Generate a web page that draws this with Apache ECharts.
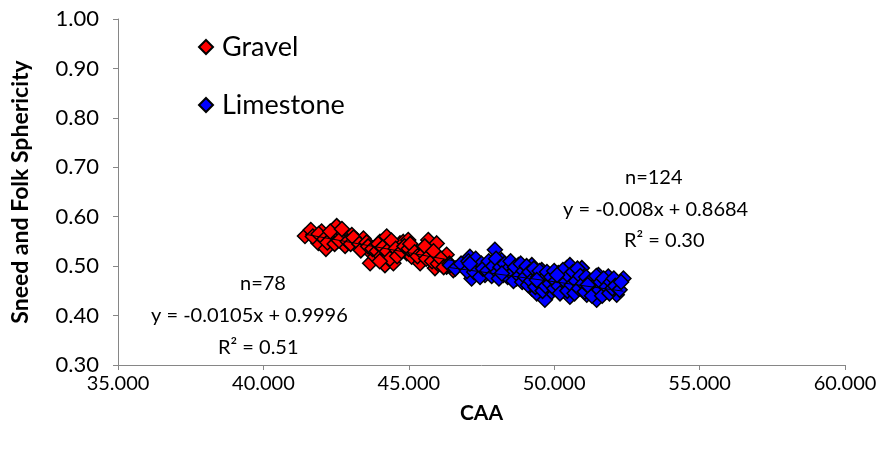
<!DOCTYPE html>
<html><head><meta charset="utf-8">
<script src="https://cdn.jsdelivr.net/npm/echarts@6/dist/echarts.min.js"></script>
<style>html,body{margin:0;padding:0;background:#fff}#c{width:888px;height:452px}</style>
</head><body><div id="c"></div>
<script>
var gravelX = [41.43,41.63,42.00,41.89,42.15,42.52,42.58,42.40,42.81,42.81,43.04,43.21,43.44,43.49,43.67,43.67,43.84,44.01,44.24,44.12,44.30,44.18,44.47,44.70,44.81,44.98,44.93,45.10,45.44,45.39,45.67,45.96,45.73,45.90,46.30,46.30,46.53,
  41.7,41.9,42.1,42.2,42.3,42.45,42.6,42.7,42.9,43.0,43.1,43.3,43.35,43.55,43.6,43.75,43.9,43.95,44.05,44.1,44.25,44.35,44.4,44.55,44.6,44.75,44.85,45.0,45.05,45.2,45.3,45.5,45.55,45.6,45.8,45.85,46.0,46.1,46.2,46.4,44.0];
var gravelY = [0.561,0.573,0.570,0.547,0.535,0.581,0.563,0.556,0.563,0.541,0.563,0.553,0.556,0.539,0.529,0.506,0.519,0.549,0.560,0.526,0.543,0.502,0.506,0.546,0.549,0.553,0.526,0.519,0.512,0.506,0.553,0.546,0.526,0.496,0.523,0.499,0.492,
  0.560,0.565,0.555,0.548,0.570,0.545,0.552,0.575,0.550,0.545,0.558,0.545,0.532,0.548,0.540,0.535,0.530,0.545,0.520,0.538,0.530,0.515,0.552,0.535,0.520,0.530,0.540,0.535,0.545,0.528,0.520,0.525,0.540,0.515,0.510,0.530,0.505,0.515,0.498,0.505,0.510];
var limeX = [46.42,47.10,47.16,47.39,47.62,47.96,47.96,48.19,48.25,48.48,48.77,48.88,48.71,49.23,49.28,49.23,49.40,49.68,49.57,49.80,49.91,50.14,50.43,50.54,50.37,50.54,50.83,50.95,51.12,51.34,51.46,51.52,51.75,51.86,52.15,52.20,52.38,
  46.6,46.8,47.0,47.05,47.2,47.25,47.3,47.45,47.5,47.55,47.7,47.75,47.85,47.9,48.0,48.05,48.1,48.15,48.3,48.35,48.4,48.5,48.55,48.6,48.65,48.8,48.85,48.9,48.95,49.0,49.05,49.1,49.15,49.2,49.3,49.35,49.45,49.5,49.5,49.6,49.65,49.7,49.75,49.85,49.9,50.0,50.0,50.05,50.15,50.2,50.25,50.3,50.4,50.45,50.5,50.6,50.65,50.7,50.75,50.8,50.85,50.9,51.0,51.05,51.1,51.2,51.25,51.3,51.4,51.45,51.55,51.6,51.65,51.7,51.8,51.9,51.95,52.0,52.05,52.1,52.25,47.1,48.2,49.4,50.1,51.15,52.3];
var limeY = [0.502,0.519,0.475,0.499,0.482,0.533,0.492,0.512,0.482,0.496,0.502,0.492,0.475,0.502,0.482,0.455,0.445,0.432,0.492,0.472,0.448,0.486,0.496,0.502,0.455,0.438,0.472,0.496,0.442,0.472,0.432,0.482,0.448,0.479,0.442,0.465,0.475,
  0.495,0.505,0.490,0.510,0.500,0.488,0.515,0.478,0.505,0.495,0.490,0.510,0.480,0.500,0.515,0.488,0.475,0.498,0.505,0.490,0.478,0.510,0.485,0.470,0.498,0.480,0.505,0.468,0.490,0.478,0.500,0.462,0.488,0.470,0.495,0.458,0.478,0.465,0.490,0.450,0.475,0.460,0.488,0.465,0.478,0.455,0.490,0.470,0.460,0.445,0.478,0.492,0.468,0.450,0.480,0.462,0.488,0.445,0.470,0.495,0.455,0.480,0.465,0.448,0.478,0.458,0.470,0.440,0.462,0.480,0.452,0.468,0.440,0.475,0.458,0.445,0.468,0.455,0.475,0.460,0.452,0.505,0.485,0.472,0.482,0.462,0.468];
// trendline coefficients [slope, intercept] and x-extent, as printed on the chart
var gravelTrend = [-0.0105, 0.9996]; var gravelRange = [41.43, 46.53];
var limeTrend = [-0.008, 0.8684];   var limeRange = [46.42, 52.38];
var xTicks = ['35.000','40.000','45.000','50.000','55.000','60.000'];
var yTicks = ['0.30','0.40','0.50','0.60','0.70','0.80','0.90','1.00'];
var gravelNote = ['n=78','y = -0.0105x + 0.9996','R\u00b2 = 0.51'];
var limeNote = ['n=124','y = -0.008x + 0.8684','R\u00b2 = 0.30'];

function pairs(xs, ys){ return xs.map(function(x,i){ return [x, ys[i]]; }); }
function trend(c, r){ return [[r[0], c[0]*r[0]+c[1]], [r[1], c[0]*r[1]+c[1]]]; }
var FONT = 'Lato';
var chart = echarts.init(document.getElementById('c'));
function note(lines, lefts, tops){
  return lines.map(function(t,i){ return {type:'text', left:lefts[i], top:tops[i], z:100,
    style:{text:t, font:'20px '+FONT, fill:'#000'}}; });
}
chart.setOption({
  animation:false,
  backgroundColor:'#fff',
  grid:{left:118, right:43, top:19, bottom:87},
  legend:{orient:'vertical', left:193, top:28, itemGap:30, itemWidth:14, itemHeight:14,
    data:[{name:'Gravel', icon:'diamond'},{name:'Limestone', icon:'diamond'}],
    textStyle:{fontFamily:FONT, fontSize:27, lineHeight:28, color:'#000', padding:[0,0,0,4]}},
  xAxis:{type:'value', min:35, max:60, interval:5,
    name:'CAA', nameLocation:'middle', nameGap:38,
    nameTextStyle:{fontFamily:FONT, fontWeight:'bold', fontSize:21, color:'#000'},
    axisLine:{lineStyle:{color:'#868686'}}, axisTick:{length:5, lineStyle:{color:'#868686'}},
    splitLine:{show:false},
    axisLabel:{fontFamily:FONT, fontSize:20, color:'#000', margin:9,
      formatter:function(v){ return xTicks[Math.round((v-35)/5)]; }}},
  yAxis:{type:'value', min:0.3, max:1.0, interval:0.1,
    name:'Sneed and Folk Sphericity', nameLocation:'middle', nameGap:86,
    nameTextStyle:{fontFamily:FONT, fontWeight:'bold', fontSize:23, color:'#000'},
    axisLine:{show:true, lineStyle:{color:'#868686'}}, axisTick:{show:true, length:5, lineStyle:{color:'#868686'}},
    splitLine:{show:false},
    axisLabel:{fontFamily:FONT, fontSize:22, color:'#000', margin:19,
      formatter:function(v){ return yTicks[Math.round((v-0.3)*10)]; }}},
  series:[
    {name:'Gravel', type:'scatter', symbol:'diamond', symbolSize:15, data:pairs(gravelX, gravelY),
      itemStyle:{color:'#ff0000', borderColor:'#000', borderWidth:1.5, opacity:1}},
    {name:'Limestone', type:'scatter', symbol:'diamond', symbolSize:15, data:pairs(limeX, limeY),
      itemStyle:{color:'#0000ff', borderColor:'#000', borderWidth:1.5, opacity:1}},
    {name:'gt', type:'line', data:trend(gravelTrend, gravelRange), symbol:'none', z:5,
      lineStyle:{color:'#000', width:1}},
    {name:'lt', type:'line', data:trend(limeTrend, limeRange), symbol:'none', z:5,
      lineStyle:{color:'#000', width:1}}
  ],
  graphic: note(gravelNote, [240,151,218], [274,306,338]).concat(note(limeNote, [625,563,624], [168,200,231]))
});
</script></body></html>
